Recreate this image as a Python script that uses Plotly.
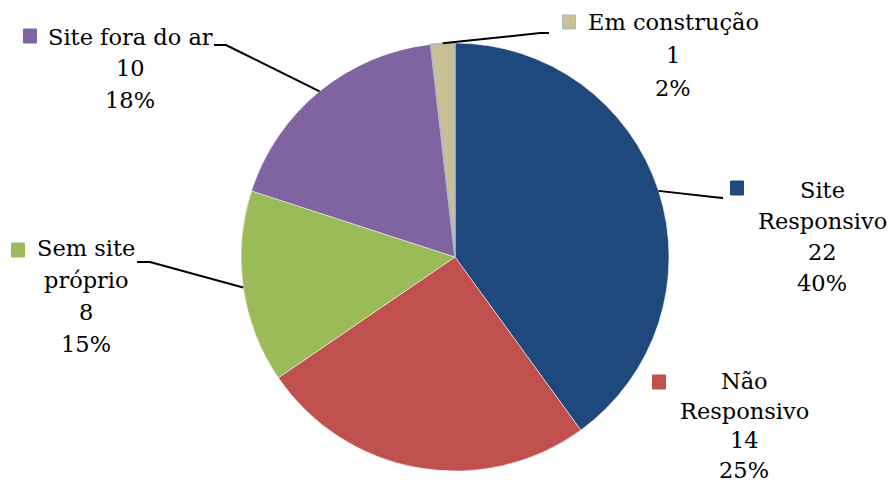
import math
import plotly.graph_objects as go

# ---- data ----
categories = ["Site Responsivo", "Não Responsivo", "Sem site próprio", "Site fora do ar", "Em construção"]
label_lines = [["Site", "Responsivo"], ["Não", "Responsivo"], ["Sem site", "próprio"], ["Site fora do ar"], ["Em construção"]]
values = [22, 14, 8, 10, 1]
colors = ["#1F497D", "#C0504D", "#9BBB59", "#8064A2", "#C9C095"]
edge_colors = ["#FFFFFF", "#FFFFFF", "#FFFFFF", "#FFFFFF", "#A9B7CC"]

# ---- layout constants (pixels, in the 890x487 window) ----
W, H = 890, 487
CX, CY, R = 455, 257, 214
FONT = "DejaVu Serif"
FS = 22.5

# label text block: (center x, first line y, line spacing), legend square center, leader elbow & end
label_pos = [(822, 190, 31), (744, 381, 29.5), (86, 248, 32), (130, 37, 31.5), (673, 22, 33)]
square_pos = [(737, 188), (659, 382), (18, 250), (30, 36), (569, 22)]
leader = [[(713, 197), (723, 198)], None, [(150, 262), (137, 262)], [(226, 45), (214, 45)], [(540, 33), (549, 33)]]


def px(x):
    return x / W


def py(y):
    return 1 - y / H


fig = go.Figure(go.Pie(
    labels=categories, values=values, sort=False, direction="clockwise", rotation=0,
    marker=dict(colors=colors, line=dict(color=edge_colors, width=[0.5, 0.5, 0.5, 0.5, 1.5])),
    textinfo="none", hoverinfo="label+value+percent", showlegend=False,
    domain=dict(x=[px(CX - R), px(CX + R)], y=[py(CY + R), py(CY - R)]),
))

total = sum(values)
annotations = []
shapes = []
cum = 0
for i, v in enumerate(values):
    pct = round(100 * v / total)
    lines = label_lines[i] + [str(v), f"{pct}%"]
    lx, ly, ls = label_pos[i]
    for k, t in enumerate(lines):
        annotations.append(dict(
            x=px(lx), y=py(ly + k * ls), xref="paper", yref="paper",
            text=t, showarrow=False, xanchor="center", yanchor="middle",
            font=dict(family=FONT, size=FS, color="#000000"),
        ))
    sx, sy = square_pos[i]
    shapes.append(dict(type="rect", xref="paper", yref="paper",
                       x0=px(sx - 6.5), x1=px(sx + 6.5), y0=py(sy + 7), y1=py(sy - 7),
                       fillcolor=colors[i], line=dict(color=edge_colors[i] if i == 4 else colors[i], width=1)))
    mid = (cum + v / 2) / total * 2 * math.pi
    cum += v
    if leader[i] is not None:
        ex = CX + R * math.sin(mid)
        ey = CY - R * math.cos(mid)
        pts = [(ex, ey)] + leader[i]
        path = "M " + " L ".join(f"{px(x)},{py(y)}" for x, y in pts)
        shapes.append(dict(type="path", xref="paper", yref="paper", path=path,
                           line=dict(color="#000000", width=2)))

fig.update_layout(
    width=W, height=H, margin=dict(l=0, r=0, t=0, b=0),
    paper_bgcolor="white", plot_bgcolor="white",
    annotations=annotations, shapes=shapes,
)

fig.write_html(
    "out.html",
    config={"displayModeBar": False},
    post_script="document.body.style.margin='0';document.body.style.overflow='hidden';",
)
